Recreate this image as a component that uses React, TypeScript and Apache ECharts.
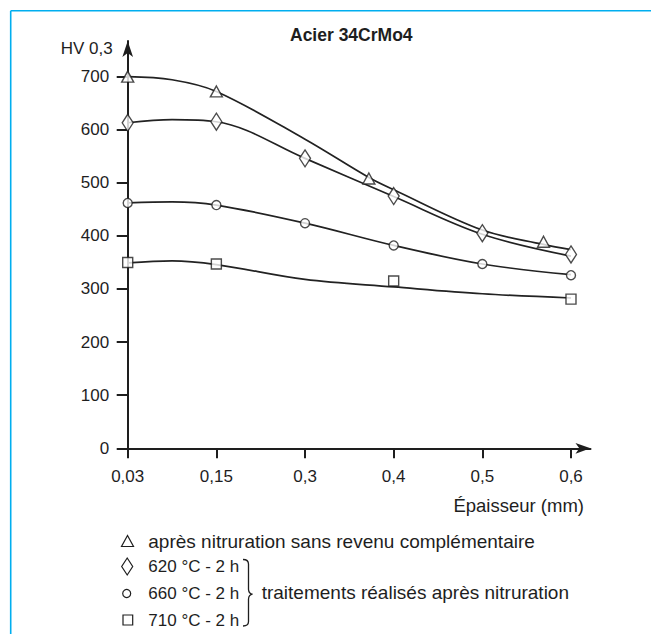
import React, { useEffect, useRef } from "react";
import * as echarts from "echarts";

// ---- data ----
const TICKS = [0.03, 0.15, 0.3, 0.4, 0.5, 0.6];
const TICK_LABELS = ["0,03", "0,15", "0,3", "0,4", "0,5", "0,6"];
const Y_TICKS = [0, 100, 200, 300, 400, 500, 600, 700];

const SERIES_NAMES = [
  "après nitruration sans revenu complémentaire",
  "620 °C - 2 h",
  "660 °C - 2 h",
  "710 °C - 2 h",
];
const BRACE_TEXT = "traitements réalisés après nitruration";

// measured points (markers)
const triangleX = [0.03, 0.15, 0.372, 0.569];
const triangleY = [700, 672, 508, 389];
const diamondX = [0.03, 0.15, 0.3, 0.4, 0.5, 0.6];
const diamondY = [613, 615, 546, 475, 405, 365];
const circleX = [0.03, 0.15, 0.3, 0.4, 0.5, 0.6];
const circleY = [462, 458, 424, 382, 347, 326];
const squareX = [0.03, 0.15, 0.4, 0.6];
const squareY = [350, 347, 315, 281];

// fitted curves
const triangleCurveX = [0.03, 0.09, 0.15, 0.3, 0.372, 0.4, 0.5, 0.569, 0.6];
const triangleCurveY = [700, 694, 672, 582, 510, 487, 411, 384, 374];
const diamondCurveX = [0.03, 0.09, 0.15, 0.3, 0.4, 0.5, 0.6];
const diamondCurveY = [613, 619, 615, 546, 474, 403, 362];
const circleCurveX = [0.03, 0.09, 0.15, 0.3, 0.4, 0.5, 0.6];
const circleCurveY = [462, 464, 458, 424, 382, 347, 327];
const squareCurveX = [0.03, 0.09, 0.15, 0.3, 0.4, 0.5, 0.6];
const squareCurveY = [349, 353, 346, 318, 304, 291, 283];

const FONT = '"Liberation Sans", Arial, Helvetica, sans-serif';
const INK = "#1e1e1e";

// the thickness axis of the figure is evenly spaced by tick, not linear
function toAxis(t: number): number {
  for (let i = 0; i < TICKS.length - 1; i++) {
    if (t <= TICKS[i + 1] || i === TICKS.length - 2) {
      return i + (t - TICKS[i]) / (TICKS[i + 1] - TICKS[i]);
    }
  }
  return 0;
}
const pairs = (xs: number[], ys: number[]) => xs.map((x, i) => [toAxis(x), ys[i]]);

const BRACE_D =
  "M243,559.5 Q248.5,559.5 248.5,564 L248.5,589.5 Q248.8,593.6 252.5,594.2 Q248.8,594.8 248.5,599 L248.5,621.5 Q248.5,626 243,626";
let braceRegistered = false;
function registerBrace() {
  if (braceRegistered) return;
  echarts.graphic.registerShape("brace", echarts.graphic.extendPath(BRACE_D, {}) as any);
  braceRegistered = true;
}

export default function App() {
  const ref = useRef<HTMLDivElement>(null);
  useEffect(() => {
    if (!ref.current) return;
    registerBrace();
    const chart = echarts.init(ref.current, null, { renderer: "svg" });

    const lineStyle = { color: "#222222", width: 1.7 };
    const markerStyle = { color: "#ffffff", borderColor: INK, borderWidth: 1.4 };
    const curve = (name: string, xs: number[], ys: number[]) => ({
      type: "line",
      name: name + " (courbe)",
      data: pairs(xs, ys),
      showSymbol: false,
      symbol: "none",
      smooth: 0.35,
      lineStyle,
      silent: true,
      z: 2,
    });
    const marks = (name: string, xs: number[], ys: number[], symbol: string, size: number[]) => ({
      type: "scatter",
      name,
      data: pairs(xs, ys),
      symbol,
      symbolSize: size,
      itemStyle: markerStyle,
      z: 3,
    });

    const legendRows = [541, 566.5, 593.5, 620];
    const textStyle = (t: string, x: number, y: number, size = 17) => ({
      type: "text",
      x,
      y,
      style: { text: t, fontSize: size, fontFamily: FONT, fill: INK, verticalAlign: "middle", align: "left" },
    });
    const iconStyle = { fill: "#fff", stroke: INK, lineWidth: 1.2 };

    chart.setOption({
      animation: false,
      backgroundColor: "#ffffff",
      title: {
        text: "Acier 34CrMo4",
        left: 290,
        top: 26,
        padding: 0,
        textStyle: { fontSize: 17.5, fontWeight: "bold", fontFamily: FONT, color: INK },
      },
      grid: { left: 127.7, top: 41, right: 60.5, bottom: 185.7, containLabel: false, outerBoundsMode: "none" },
      xAxis: {
        type: "value",
        min: 0,
        max: 5.22,
        name: "Épaisseur (mm)",
        nameLocation: "end",
        nameGap: -6.5,
        nameTextStyle: {
          fontSize: 18.5,
          fontFamily: FONT,
          color: INK,
          align: "right",
          verticalAlign: "top",
          padding: [48, 0, 0, 0],
        },
        axisLine: { lineStyle: { color: INK, width: 2 }, symbol: ["none", "arrow"], symbolSize: [8, 15] },
        axisTick: { show: true, length: 10, lineStyle: { color: INK, width: 2 }, customValues: TICK_LABELS.map((_, i) => i) },
        axisLabel: {
          customValues: TICK_LABELS.map((_, i) => i),
          formatter: (v: number) => TICK_LABELS[Math.round(v)] ?? "",
          fontSize: 17,
          fontFamily: FONT,
          color: INK,
          margin: 20,
        },
        splitLine: { show: false },
      },
      yAxis: {
        type: "value",
        min: 0,
        max: 767,
        name: "HV 0,3",
        nameLocation: "end",
        nameGap: -7,
        nameTextStyle: {
          fontSize: 17,
          fontFamily: FONT,
          color: INK,
          align: "right",
          verticalAlign: "middle",
          padding: [0, 15, 0, 0],
        },
        axisLine: { show: true, lineStyle: { color: INK, width: 2 }, symbol: ["none", "arrow"], symbolSize: [8, 16] },
        axisTick: { show: true, length: 11, lineStyle: { color: INK, width: 2 }, customValues: Y_TICKS },
        axisLabel: { customValues: Y_TICKS, fontSize: 17, fontFamily: FONT, color: INK, margin: 18.5 },
        splitLine: { show: false },
      },
      series: [
        curve(SERIES_NAMES[0], triangleCurveX, triangleCurveY),
        curve(SERIES_NAMES[1], diamondCurveX, diamondCurveY),
        curve(SERIES_NAMES[2], circleCurveX, circleCurveY),
        curve(SERIES_NAMES[3], squareCurveX, squareCurveY),
        marks(SERIES_NAMES[0], triangleX, triangleY, "triangle", [12, 11]),
        marks(SERIES_NAMES[1], diamondX, diamondY, "diamond", [11, 17]),
        marks(SERIES_NAMES[2], circleX, circleY, "circle", [9, 9]),
        marks(SERIES_NAMES[3], squareX, squareY, "rect", [10, 10]),
      ],
      graphic: [
        // cyan frame
        { type: "line", shape: { x1: 10.7, y1: 10.7, x2: 651, y2: 10.7 }, style: { stroke: "#00AEEF", lineWidth: 1.6 } },
        { type: "line", shape: { x1: 10.7, y1: 10.7, x2: 10.7, y2: 634 }, style: { stroke: "#00AEEF", lineWidth: 1.6 } },
        // legend icons
        {
          type: "polygon",
          shape: { points: [[127.5, legendRows[0] - 5.5], [121.5, legendRows[0] + 5.5], [133.5, legendRows[0] + 5.5]] },
          style: iconStyle,
        },
        {
          type: "polygon",
          shape: {
            points: [
              [127.2, legendRows[1] - 8.5],
              [132.7, legendRows[1]],
              [127.2, legendRows[1] + 8.5],
              [121.7, legendRows[1]],
            ],
          },
          style: iconStyle,
        },
        { type: "circle", shape: { cx: 126.7, cy: legendRows[2], r: 4 }, style: iconStyle },
        { type: "rect", shape: { x: 123, y: legendRows[3] - 5, width: 9.7, height: 10 }, style: iconStyle },
        // legend texts
        textStyle(SERIES_NAMES[0], 148.3, legendRows[0], 19),
        textStyle(SERIES_NAMES[1], 148.3, legendRows[1]),
        textStyle(SERIES_NAMES[2], 148.3, legendRows[2]),
        textStyle(SERIES_NAMES[3], 148.3, legendRows[3]),
        // brace
        { type: "brace", x: 0, y: 0, style: { fill: "none", stroke: INK, lineWidth: 1.3 } },
        textStyle(BRACE_TEXT, 261.7, 592.5, 19),
      ],
    });
    return () => chart.dispose();
  }, []);

  return (
    <div
      ref={ref}
      style={{ position: "absolute", left: 0, top: 0, width: 651, height: 634, background: "#fff" }}
    />
  );
}
